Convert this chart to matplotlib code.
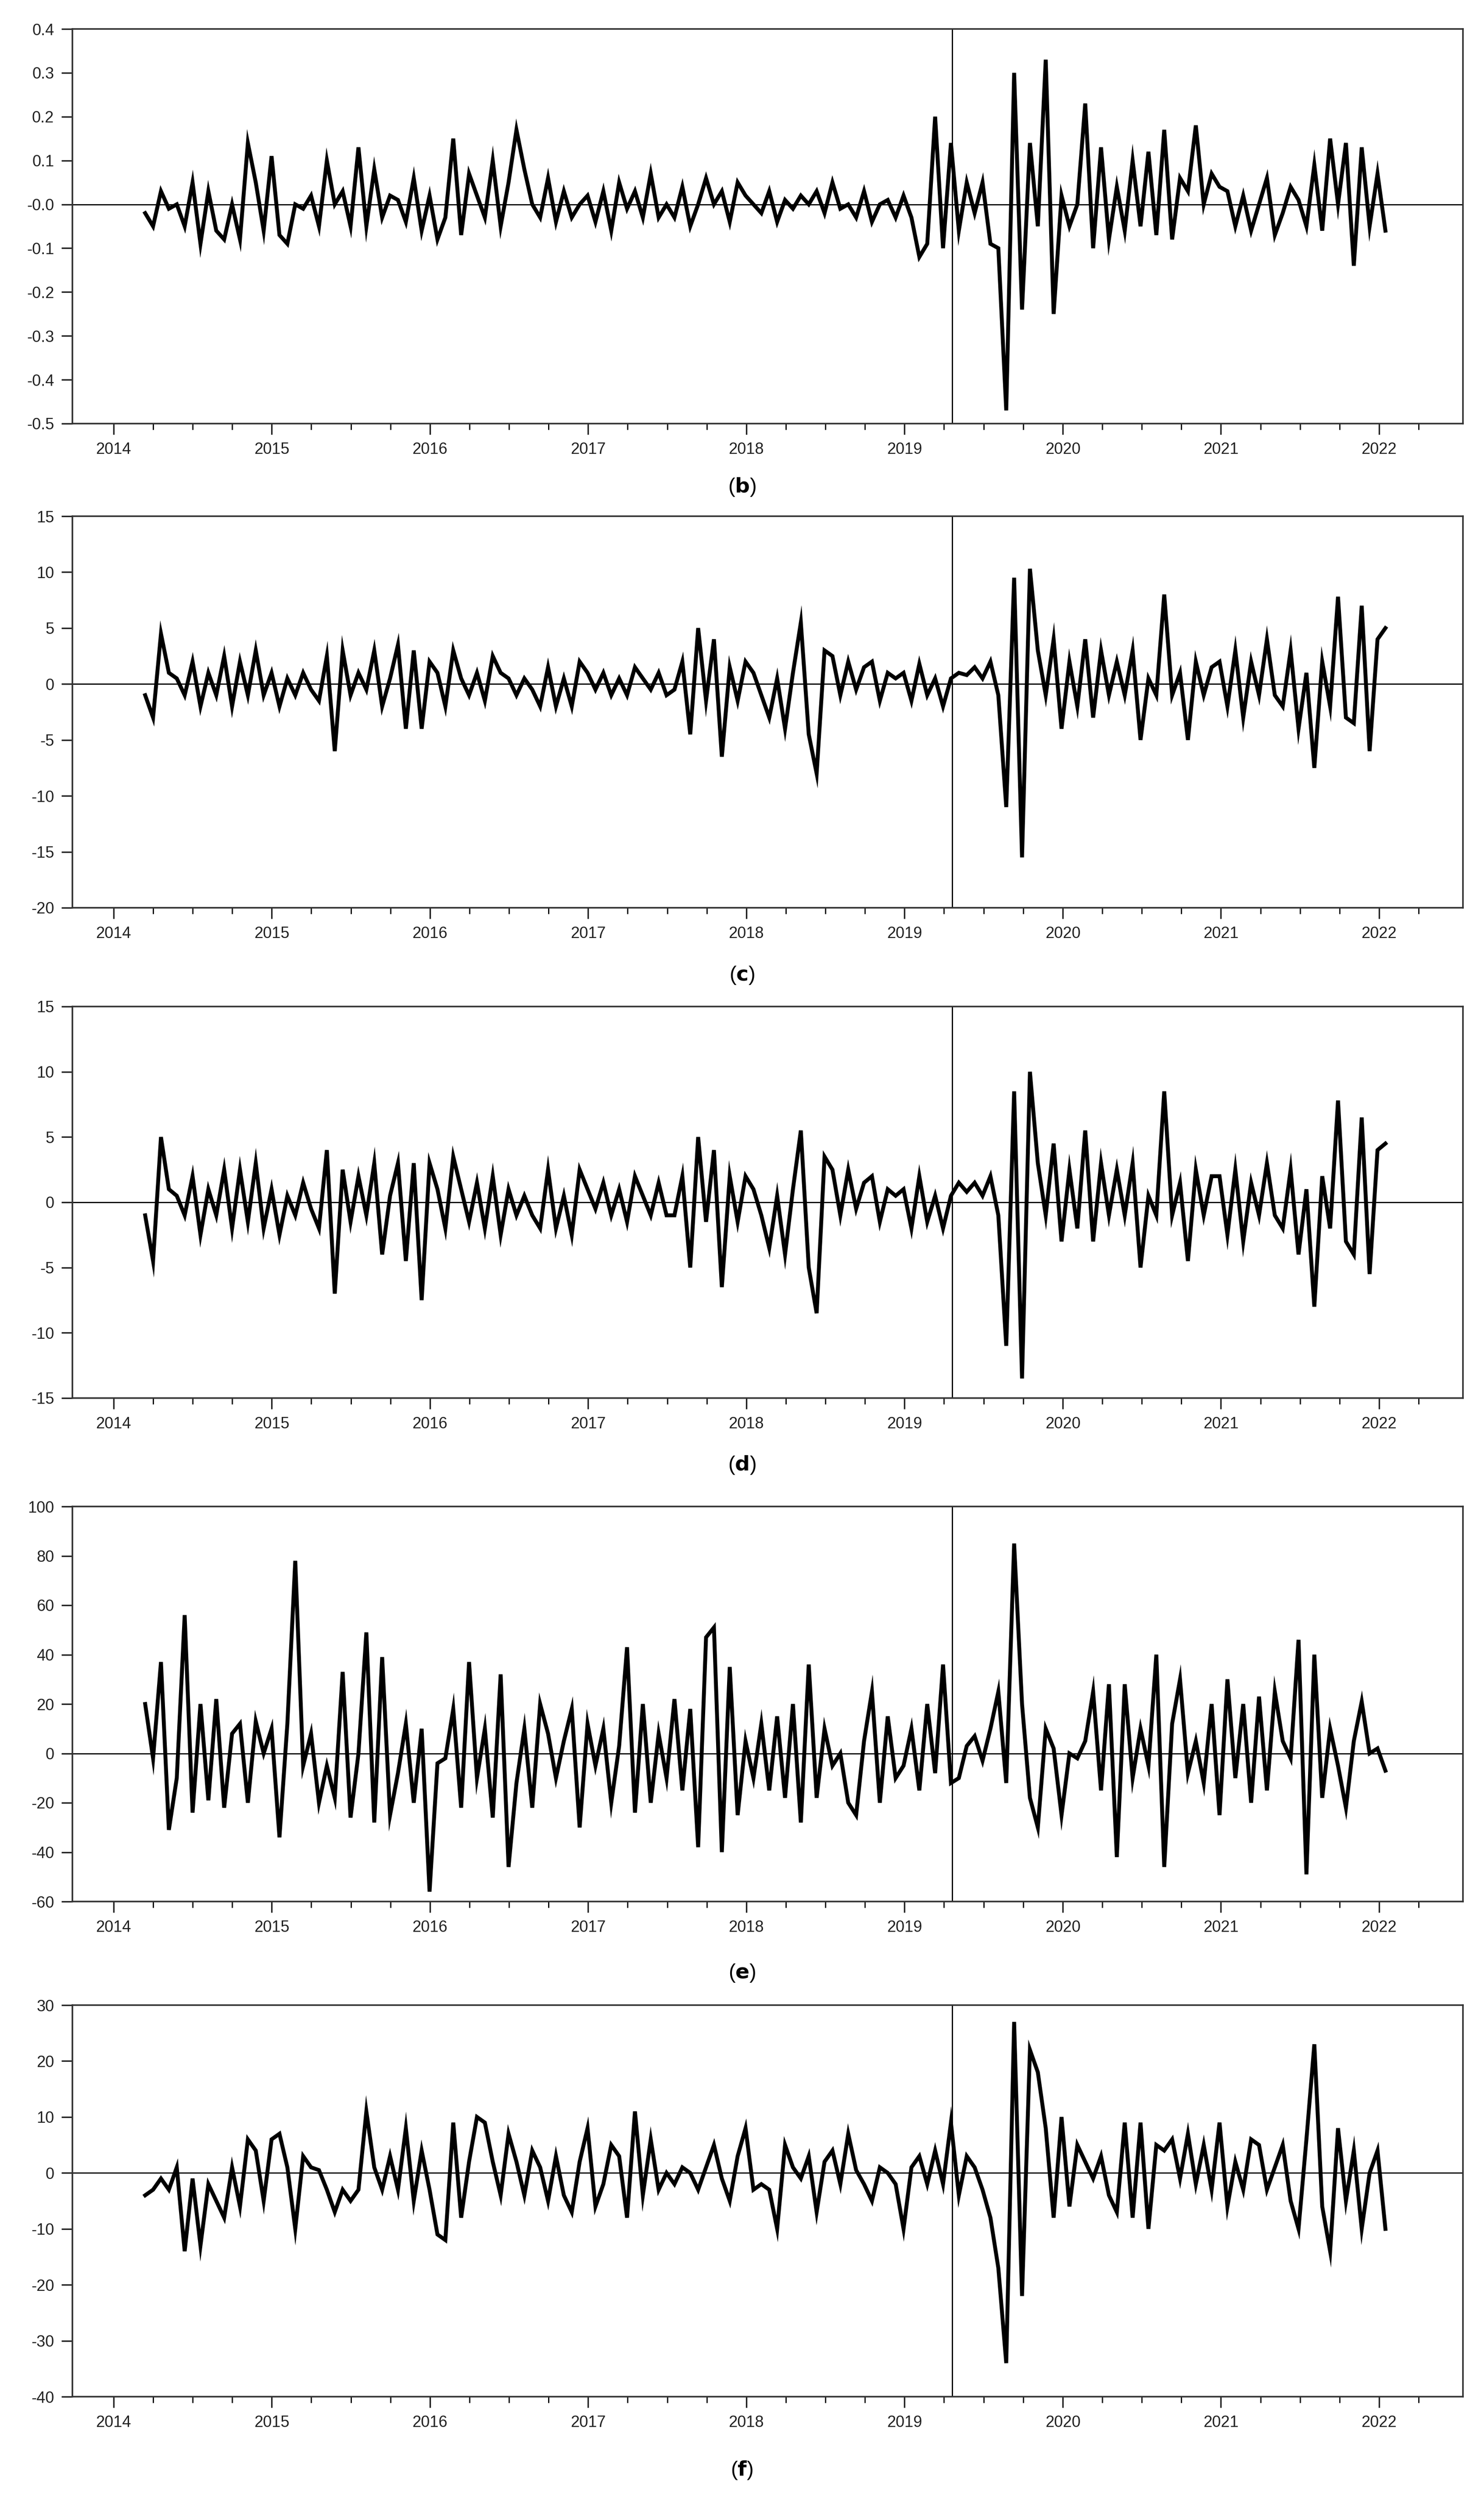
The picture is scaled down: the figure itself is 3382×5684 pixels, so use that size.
import numpy as np
import matplotlib
matplotlib.use("Agg")
import matplotlib.pyplot as plt
from matplotlib.ticker import MultipleLocator, FixedLocator, FixedFormatter

plt.rcParams['font.family'] = ['Liberation Sans', 'DejaVu Sans']

start_year = 2014.20
end_year = 2022.04
break_year = 2019.30
year_ticks = [2014, 2015, 2016, 2017, 2018, 2019, 2020, 2021, 2022]

series_b = [-0.02,-0.05,0.03,-0.01,0.0,-0.05,0.05,-0.09,0.03,-0.06,-0.08,0.0,-0.08,0.14,0.05,-0.06,
    0.11,-0.07,-0.09,0.0,-0.01,0.02,-0.05,0.1,0.0,0.03,-0.05,0.13,-0.05,0.08,-0.03,0.02,0.01,-0.04,0.06,-0.06,
    0.02,-0.08,-0.03,0.15,-0.07,0.07,0.02,-0.03,0.1,-0.05,0.05,0.17,0.08,0.0,-0.03,0.06,-0.04,0.03,-0.03,0.0,
    0.02,-0.04,0.03,-0.06,0.05,-0.01,0.03,-0.03,0.07,-0.03,0.0,-0.03,0.04,-0.05,0.0,0.06,0.0,0.03,-0.04,0.05,
    0.02,0.0,-0.02,0.03,-0.04,0.01,-0.01,0.02,0.0,0.03,-0.02,0.05,-0.01,0.0,-0.03,0.03,-0.04,0.0,0.01,-0.03,
    0.02,-0.03,-0.12,-0.09,0.2,-0.1,0.14,-0.06,0.05,-0.02,0.05,-0.09,-0.1,-0.47,0.3,-0.24,0.14,-0.05,0.33,-0.25,
    0.02,-0.05,0.0,0.23,-0.1,0.13,-0.08,0.04,-0.06,0.1,-0.05,0.12,-0.07,0.17,-0.08,0.06,0.03,0.18,0.0,0.07,
    0.04,0.03,-0.05,0.02,-0.06,0.0,0.06,-0.07,-0.02,0.04,0.01,-0.05,0.09,-0.06,0.15,0.0,0.14,-0.14,0.13,-0.05,
    0.07,-0.06]

series_c = [-1,-3,4.5,1,0.5,-1,2,-2,1,-1,2.5,-2,2,-1,3,-1,
    1,-2,0.5,-1,1,-0.5,-1.5,2.5,-6,3,-1,1,-0.5,3,-2,0.5,3.5,-4,3,-4,
    2,1,-2,3,0.5,-1,1,-1.5,2.5,1,0.5,-1,0.5,-0.5,-2,1.5,-2,0.5,-2,2,
    1,-0.5,1,-1,0.5,-1,1.5,0.5,-0.5,1,-1,-0.5,2,-4.5,5,-1.5,4,-6.5,1.5,-1.5,
    2,1,-1,-3,0.5,-4,1,5.5,-4.5,-8,3,2.5,-1,2,-0.5,1.5,2,-1.5,1,0.5,
    1,-1.5,1.8,-1,0.5,-2,0.5,1,0.8,1.5,0.5,2,-1,-11,9.5,-15.5,10.3,3,-1,4,
    -4,2,-2,4,-3,3,-1,2,-1,3,-5,0.5,-1,8,-1,1,-5,2,-1,1.5,
    2,-2,3,-3,2,-1,4,-1,-2,3,-4,1,-7.5,2,-2,7.8,-3,-3.5,7,-6,
    4,5]

series_d = [-1,-4.5,5,1,0.5,-1,2,-2.5,1,-1,2.5,-2,2.5,-1.5,3,-2,
    1,-2.5,0.5,-1,1.5,-0.5,-2,4,-7,2.5,-1.5,2,-1,3,-4,0.5,3,-4.5,3,-7.5,
    3,1,-2,3.5,1,-1.5,1.5,-2,2,-2.5,1,-1,0.5,-1,-2,2.5,-2,0.5,-2.5,2.5,
    1,-0.5,1.5,-1,1,-1.5,2,0.5,-1,1.5,-1,-1,2,-5,5,-1.5,4,-6.5,2,-1.5,
    2,1,-1,-3.5,0.5,-4,1,5.5,-5,-8.5,3.5,2.5,-1,2.5,-0.5,1.5,2,-1.5,1,0.5,
    1,-2,2,-1.5,0.5,-2,0.5,1.5,0.8,1.5,0.5,2,-1,-11,8.5,-13.5,10,3,-1,4.5,
    -3,2.5,-2,5.5,-3,3,-1,2.5,-1,3,-5,0.5,-1,8.5,-1,1.5,-4.5,2.5,-1,2,
    2,-2.5,2.5,-3,1.5,-1,3,-1,-2,2.5,-4,1,-8,2,-2,7.8,-3,-4,6.5,-5.5,
    4,4.5]

series_e = [20,-2,37,-31,-10,56,-24,20,-19,22,-22,8,12,-20,13,0,
    10,-34,12,78,-5,8,-20,-5,-18,33,-26,0,49,-28,39,-25,-8,12,-20,10,
    -56,-4,-2,18,-22,37,-10,10,-26,32,-46,-12,10,-22,20,8,-10,5,18,-30,
    12,-5,10,-20,3,43,-24,20,-20,8,-10,22,-15,18,-38,47,51,-40,35,-25,
    5,-10,12,-15,15,-18,20,-28,36,-18,10,-5,0,-20,-25,5,25,-20,15,-10,
    -5,10,-15,20,-8,36,-12,-10,3,7,-3,10,25,-12,85,20,-18,-30,10,2,
    -25,0,-2,5,25,-15,28,-42,28,-10,10,-5,40,-46,12,30,-8,5,-12,20,
    -25,30,-10,20,-20,23,-15,25,5,-2,46,-49,40,-18,10,-5,-22,5,21,0,
    2,-7]

series_f = [-4,-3,-1,-3,1,-14,-1,-13,-2,-5,-8,1,-6,6,4,-5,
    6,7,1,-10,3,1,0.5,-3,-7,-3,-5,-3,11,1,-3,3,-3,8,-5,4,
    -3,-11,-12,9,-8,2,10,9,2,-4,7,2,-4,4,1,-5,3,-4,-7,2,
    8,-6,-2,5,3,-8,11,-4,6,-3,0,-2,1,0,-3,1,5,-1,-5,3,
    8,-3,-2,-3,-10,5,1,-1,3,-7,2,4,-2,7,0.5,-2,-5,1,0,-2,
    -10,1,3,-2,4,-2,9,-4,3,1,-3,-8,-17,-34,27,-22,22,18,8,-8,
    10,-6,5,2,-1,3,-4,-7,9,-8,9,-10,5,4,6,-1,7,-2,5,-3,
    9,-6,2,-3,6,5,-3,1,5,-5,-10,6,23,-6,-14,8,-5,4,-10,0,
    4,-10]

panels = [
    ("b", series_b, (-0.5, 0.4), np.arange(-0.5, 0.41, 0.1),
     ["-0.5", "-0.4", "-0.3", "-0.2", "-0.1", "-0.0", "0.1", "0.2", "0.3", "0.4"]),
    ("c", series_c, (-20, 15), np.arange(-20, 16, 5), None),
    ("d", series_d, (-15, 15), np.arange(-15, 16, 5), None),
    ("e", series_e, (-60, 100), np.arange(-60, 101, 20), None),
    ("f", series_f, (-40, 30), np.arange(-40, 31, 10), None),
]

W, H = 3382, 5684
dpi = 200
fig = plt.figure(figsize=(W / dpi, H / dpi), dpi=dpi)

tops = [66, 1176, 2293, 3432, 4568]
bottoms = [965, 2068, 3185, 4332, 5460]
label_y = [1110, 2222, 3338, 4495, 5628]
left_px, right_px = 165, 3334

for (name, vals, ylim, yt, ylab), t, b, ly in zip(panels, tops, bottoms, label_y):
    ax = fig.add_axes([left_px / W, 1 - b / H, (right_px - left_px) / W, (b - t) / H])
    x = np.linspace(start_year, end_year, len(vals))
    ax.plot(x, vals, color='black', lw=3.2, solid_joinstyle='miter')
    ax.axhline(0, color='black', lw=1.0)
    ax.axvline(break_year, color='black', lw=1.0)
    ax.set_xlim(2013.74, 2022.53)
    ax.set_ylim(*ylim)
    ax.set_yticks(yt)
    if ylab is not None:
        ax.set_yticklabels(ylab)
    else:
        ax.set_yticklabels([str(int(v)) for v in yt])
    ax.xaxis.set_major_locator(FixedLocator(year_ticks))
    ax.xaxis.set_major_formatter(FixedFormatter([str(y) for y in year_ticks]))
    ax.xaxis.set_minor_locator(FixedLocator(np.arange(2014.25, 2022.5, 0.25)))
    ax.tick_params(axis='both', which='major', direction='out', length=9, width=1.2,
                   labelsize=13, colors='#222222', pad=6)
    ax.tick_params(axis='x', which='minor', direction='out', length=5, width=1.0)
    ax.tick_params(right=False, top=False)
    for s in ax.spines.values():
        s.set_linewidth(1.3)
        s.set_color('#333333')
    fig.text(0.5, 1 - ly / H, r"($\mathbf{%s}$)" % name, ha='center', va='center', fontsize=17)

fig.savefig("out.png", dpi=dpi)
